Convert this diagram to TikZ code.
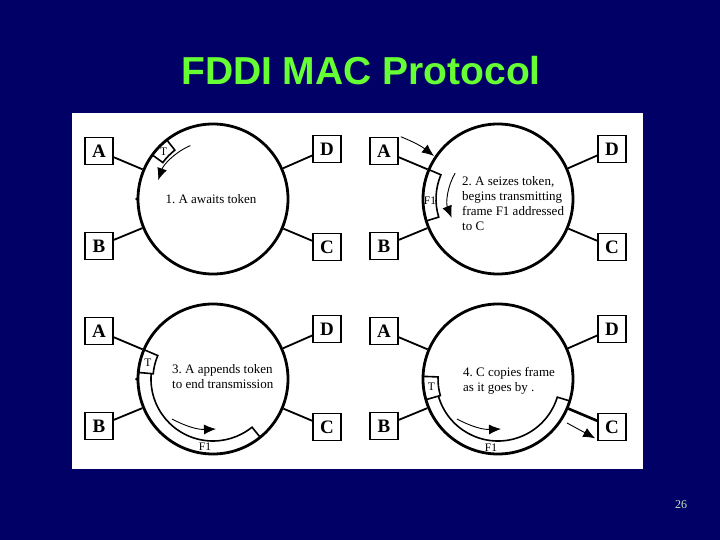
\documentclass[tikz,border=0pt]{standalone}
\usepackage{fontspec}
\setmainfont{Liberation Serif}
\newfontfamily\titlefont{Liberation Sans}
\usetikzlibrary{arrows.meta}
\definecolor{navy}{RGB}{0,0,102}
\definecolor{titlegreen}{RGB}{102,255,51}
\definecolor{pagenum}{RGB}{190,230,190}
\begin{document}
\frenchspacing
\begin{tikzpicture}[x=1pt,y=-1pt,
  station/.style={draw, line width=1.6pt, minimum width=28pt, minimum height=27pt, inner sep=0pt, font=\fontsize{19}{19}\selectfont\bfseries},
  ringnode/.style={draw, circle, line width=2.8pt, minimum size=150pt, inner sep=0pt},
  link/.style={line width=1.8pt},
  band/.style={line width=1.6pt},
  flow/.style={line width=0.9pt, -{Latex[length=12pt,width=10pt]}},
  lbl/.style={font=\fontsize{11.5}{11.5}\selectfont, inner sep=0pt},
  note/.style={font=\fontsize{13}{15}\selectfont, align=left, inner sep=0pt, anchor=west}]
\fill[navy] (0,0) rectangle (720,540);
\fill[white] (72,113) rectangle (643,469);
\useasboundingbox (0,0) rectangle (720,540);

\node[font=\titlefont\fontsize{39}{39}\selectfont\bfseries, text=titlegreen] (title) at (361,71) {FDDI MAC Protocol};
\node[font=\fontsize{12}{12}\selectfont, text=pagenum] (page) at (681,505) {26};

\foreach \q/\dx/\dy in {1/0/0,2/285/0,3/0/180,4/285/180}{
  \node[ringnode] (ring\q) at (213+\dx,199+\dy) {};
  \node[station] (A\q) at (99+\dx,151+\dy) {A};
  \node[station] (D\q) at (327+\dx,149+\dy) {D};
  \node[station] (B\q) at (99+\dx,246+\dy) {B};
  \node[station] (C\q) at (327+\dx,247+\dy) {C};
  \draw[link] (A\q) -- (ring\q);
  \draw[link] (D\q) -- (ring\q);
  \draw[link] (B\q) -- (ring\q);
  \draw[link] (C\q) -- (ring\q);
}
\draw[line width=2.6pt] (C4) -- (ring4);
\fill ([shift={(-76.5pt,0pt)}]ring1.center) circle[radius=1.5pt];
\fill ([shift={(-76.5pt,0pt)}]ring3.center) circle[radius=1.5pt];

% Quadrant 1
\draw[band] ([shift={(128:62pt)}]ring1.center) arc[start angle=128,end angle=144,radius=62pt]
  -- ([shift={(144:75pt)}]ring1.center) arc[start angle=144,end angle=128,radius=75pt] -- cycle;
\node[lbl] (T1) at ([shift={(136:68.5pt)}]ring1.center) {T};
\draw[flow] ([shift={(113:58pt)}]ring1.center) arc[start angle=113,end angle=161,radius=58pt];
\node[note, anchor=center] (n1) at (211,199) {1. A awaits token};

% Quadrant 2
\draw[band] ([shift={(157:62pt)}]ring2.center) arc[start angle=157,end angle=197,radius=62pt]
  -- ([shift={(197:75pt)}]ring2.center) arc[start angle=197,end angle=157,radius=75pt] -- cycle;
\node[lbl] (F2) at ([shift={(-68pt,-2pt)}]ring2.center) {F1};
\draw[flow] ([shift={(149:50pt)}]ring2.center) arc[start angle=149,end angle=202,radius=50pt];
\coordinate (tip2) at (434,156);
\draw[flow] ([xshift=2pt]A2.north east) to[bend left=8] (tip2);
\node[note] (n2) at (462,204) {2. A seizes token,\\begins transmitting\\frame F1 addressed\\to C};

% Quadrant 3
\draw[band] ([shift={(157:60pt)}]ring3.center) arc[start angle=157,end angle=175,radius=60pt]
  -- ([shift={(175:75pt)}]ring3.center) arc[start angle=175,end angle=157,radius=75pt] -- cycle;
\node[lbl] (T3) at ([shift={(166:67pt)}]ring3.center) {T};
\draw[band] ([shift={(175:62pt)}]ring3.center) arc[start angle=175,end angle=309,radius=62pt]
  -- ([shift={(309:75pt)}]ring3.center);
\node[lbl] (F3) at ([shift={(-8pt,-68pt)}]ring3.center) {F1};
\draw[flow] ([shift={(-41pt,-40pt)}]ring3.center) to[bend right=15] ([shift={(3pt,-50pt)}]ring3.center);
\node[note] (n3) at (172,377) {3. A appends token\\to end transmission};

% Quadrant 4
\draw[band] ([shift={(178:60pt)}]ring4.center) arc[start angle=178,end angle=196,radius=60pt]
  -- ([shift={(196:75pt)}]ring4.center) arc[start angle=196,end angle=178,radius=75pt] -- cycle;
\node[lbl] (T4) at ([shift={(187:67pt)}]ring4.center) {T};
\draw[band] ([shift={(196:62pt)}]ring4.center) arc[start angle=196,end angle=343,radius=62pt]
  -- ([shift={(343:75pt)}]ring4.center);
\node[lbl] (F4) at ([shift={(-7pt,-69pt)}]ring4.center) {F1};
\draw[flow] ([shift={(-41pt,-40pt)}]ring4.center) to[bend right=15] ([shift={(3pt,-50pt)}]ring4.center);
\node[note] (n4) at (463,381) {4. C copies frame\\as it goes by .};
\coordinate (c4s) at (567,423);
\draw[flow] (c4s) -- ([xshift=-2pt,yshift=3pt]C4.south west);
\end{tikzpicture}
\end{document}
